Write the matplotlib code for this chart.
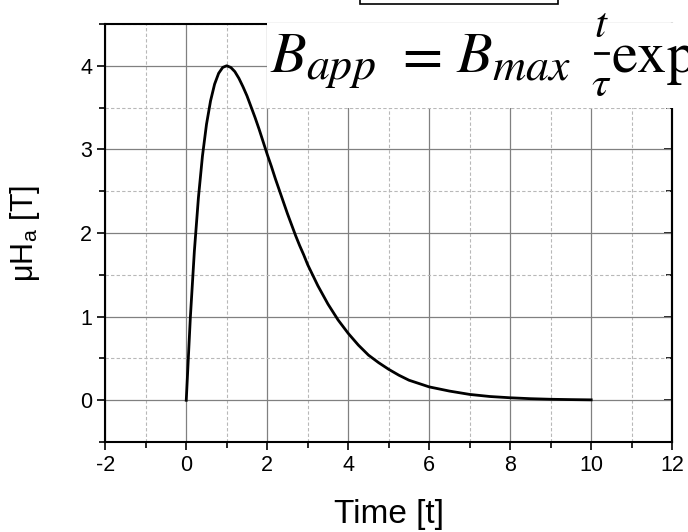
import numpy as np
import matplotlib
matplotlib.use('Agg')
import matplotlib.pyplot as plt
from matplotlib.patches import Rectangle
from matplotlib.lines import Line2D
from matplotlib.ticker import MultipleLocator

# values
t = [0, 0.1, 0.2, 0.3, 0.4, 0.5, 0.6, 0.7, 0.8, 0.9, 1.0, 1.1, 1.2, 1.3, 1.4,
     1.5, 1.6, 1.7, 1.8, 1.9, 2.0, 2.1, 2.2, 2.3, 2.4, 2.5, 2.6, 2.7, 2.8, 2.9,
     3.0, 3.25, 3.5, 3.75, 4.0, 4.25, 4.5, 4.75, 5.0, 5.25, 5.5, 5.75, 6.0,
     6.5, 7.0, 7.5, 8.0, 8.5, 9.0, 9.5, 10.0]
B = [0, 0.98, 1.78, 2.42, 2.92, 3.30, 3.58, 3.78, 3.91, 3.98, 4.00, 3.98, 3.93,
     3.85, 3.75, 3.64, 3.51, 3.38, 3.24, 3.09, 2.94, 2.80, 2.65, 2.51, 2.37,
     2.23, 2.10, 1.97, 1.85, 1.74, 1.62, 1.37, 1.15, 0.96, 0.80, 0.66, 0.54,
     0.45, 0.37, 0.30, 0.24, 0.20, 0.16, 0.11, 0.07, 0.045, 0.03, 0.019, 0.012,
     0.008, 0.005]

xticks = [-2, 0, 2, 4, 6, 8, 10, 12]
yticks = [0, 1, 2, 3, 4]

plt.rcParams['font.family'] = ['Liberation Sans', 'DejaVu Sans']
plt.rcParams['mathtext.fontset'] = 'stix'
plt.rcParams['axes.unicode_minus'] = False

fig = plt.figure(figsize=(6.88, 5.32), dpi=100)
ax = fig.add_axes([0.153, 0.169, 0.824, 0.786])

ax.plot(t, B, color='black', lw=2.0, zorder=3)

ax.set_xlim(-2, 12)
ax.set_ylim(-0.5, 4.5)
ax.set_xticks(xticks)
ax.set_yticks(yticks)
ax.xaxis.set_minor_locator(MultipleLocator(1))
ax.yaxis.set_minor_locator(MultipleLocator(0.5))

ax.grid(which='major', color='#808080', lw=0.9, ls='-')
ax.grid(which='minor', color='#b8b8b8', lw=0.8, ls=(0, (3, 2)))
ax.set_axisbelow(True)

ax.tick_params(which='both', direction='out', width=1.2, labelsize=15.5)
ax.tick_params(which='major', length=6)
ax.tick_params(which='minor', length=4)
for side in ['left', 'bottom', 'right', 'top']:
    ax.spines[side].set_linewidth(1.5)

# inward ticks on the right side
sec = ax.secondary_yaxis('right')
sec.set_yticks(yticks)
sec.yaxis.set_minor_locator(MultipleLocator(0.5))
sec.tick_params(which='both', direction='in', width=1.2, labelright=False)
sec.tick_params(which='major', length=6)
sec.tick_params(which='minor', length=4)
sec.spines['right'].set_linewidth(1.5)

ax.set_xlabel('Time [t]', fontsize=24, labelpad=16)
ax.set_ylabel(r'μH$_\mathregular{a}$ [T]', fontsize=22, labelpad=27)

# equation panel overlapping the plot
fig.patches.append(Rectangle((267 / 688, 1 - 108 / 532), 430 / 688, 85 / 532,
                             transform=fig.transFigure, facecolor='white',
                             edgecolor='none', zorder=5))


def eq(x, y, s, size, ha='left'):
    fig.text(x / 688, 1 - y / 532, s, fontsize=size, ha=ha, va='baseline',
             zorder=6)


eq(270, 72, r'$B$', 42)
eq(306, 79, r'$app$', 33)
eq(418, 72, r'$=$', 42, ha='center')
eq(456, 72, r'$B$', 42)
eq(492, 79, r'$max$', 33)
eq(601, 37, r'$t$', 31, ha='center')
eq(601, 96, r'$\tau$', 31, ha='center')
fig.lines.append(Line2D([595 / 688, 608 / 688], [1 - 53 / 532, 1 - 53 / 532],
                        transform=fig.transFigure, color='black', lw=2.0,
                        zorder=6))
eq(611, 72, r'$\mathrm{exp}$', 42)

# box at the top edge
fig.patches.append(Rectangle((360 / 688, 1 - 4 / 532), 198 / 688, 10 / 532,
                             transform=fig.transFigure, facecolor='white',
                             edgecolor='black', lw=1.2, zorder=5))

fig.savefig('out.png', dpi=100)
